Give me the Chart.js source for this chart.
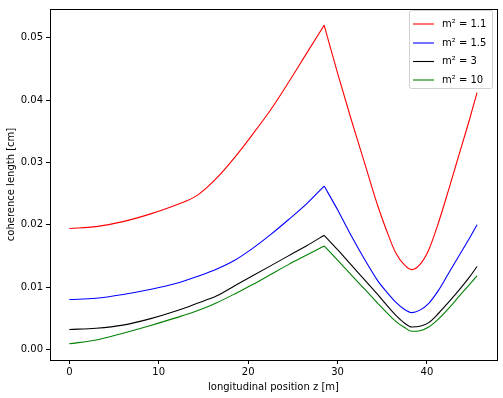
<!DOCTYPE html>
<html>
<head>
<meta charset="utf-8">
<script src="https://cdn.jsdelivr.net/npm/chart.js@4/dist/chart.umd.min.js"></script>
<style>
  html, body { margin: 0; padding: 0; background: #fff; }
  #wrap { width: 503px; height: 398px; }
</style>
</head>
<body>
<div id="wrap"><canvas id="grafico"></canvas></div>
<script>
// posicao longitudinal z [m]
const posicoes = [0, 3, 6, 9, 12, 14.3, 16.5, 18.5, 20.5, 22.5, 24.5, 26.5, 28.5, 30, 31.5, 33, 34.5, 35.5, 36.5, 37.5, 38.3, 39.2, 40.2, 41.3, 42.5, 43.7, 44.7, 45.6];
// indice do pico (z = 28.5), onde a curva tem um bico
const indicePico = 12;

// comprimento de coerencia [cm] para cada m^2
const coerencia11 = [0.0194, 0.0197, 0.0205, 0.0217, 0.0232, 0.0247, 0.0275, 0.0308, 0.0345, 0.0384, 0.0428, 0.0474, 0.0520, 0.0443, 0.0370, 0.0300, 0.0230, 0.0190, 0.0155, 0.0135, 0.0128, 0.0136, 0.0160, 0.0204, 0.0260, 0.0318, 0.0366, 0.0412];
const coerencia15 = [0.0080, 0.0082, 0.0088, 0.0096, 0.0106, 0.0117, 0.0129, 0.0143, 0.0162, 0.0184, 0.0208, 0.0233, 0.0262, 0.0224, 0.0183, 0.0145, 0.0110, 0.0092, 0.0076, 0.0064, 0.0059, 0.0063, 0.0074, 0.0095, 0.0124, 0.0153, 0.0177, 0.0200];
const coerencia3 = [0.0032, 0.0034, 0.0039, 0.0049, 0.0062, 0.0074, 0.0086, 0.0102, 0.0118, 0.0134, 0.0150, 0.0166, 0.0183, 0.0160, 0.0136, 0.0112, 0.0088, 0.0071, 0.0055, 0.0042, 0.0036, 0.0037, 0.0043, 0.0058, 0.0077, 0.0097, 0.0115, 0.0133];
const coerencia10 = [0.0009, 0.0015, 0.0026, 0.0038, 0.0051, 0.0062, 0.0075, 0.0089, 0.0104, 0.0120, 0.0136, 0.0151, 0.0166, 0.0143, 0.0120, 0.0097, 0.0074, 0.0059, 0.0045, 0.0035, 0.0029, 0.0030, 0.0036, 0.0049, 0.0067, 0.0087, 0.0103, 0.0118];

const legendas = ["m\u00b2 = 1.1", "m\u00b2 = 1.5", "m\u00b2 = 3", "m\u00b2 = 10"];
const cores = ["#ff0000", "#0000ff", "#000000", "#008000"];
const ticksX = [0, 10, 20, 30, 40];
const ticksY = [0, 0.01, 0.02, 0.03, 0.04, 0.05];

const fonte = { family: "'DejaVu Sans', sans-serif", size: 10 };

function pontos(valores, inicio, fim) {
  const lista = [];
  for (let i = inicio; i <= fim; i++) {
    lista.push({ x: posicoes[i], y: valores[i] });
  }
  return lista;
}

// cada curva vira dois trechos suaves que se encontram no pico
function trechos(label, valores, cor) {
  const base = {
    borderColor: cor,
    backgroundColor: cor,
    borderWidth: 1.1,
    pointRadius: 0,
    cubicInterpolationMode: "monotone",
    fill: false,
  };
  return [
    { ...base, label: label, data: pontos(valores, 0, indicePico) },
    { ...base, label: "", data: pontos(valores, indicePico, posicoes.length - 1) },
  ];
}

// moldura em volta da area do grafico (4 lados)
const moldura = {
  id: "moldura",
  afterDraw(chart) {
    const { ctx, chartArea } = chart;
    ctx.save();
    ctx.strokeStyle = "#000";
    ctx.lineWidth = 1;
    ctx.strokeRect(
      Math.round(chartArea.left) + 0.5,
      Math.round(chartArea.top) + 0.5,
      Math.round(chartArea.right - chartArea.left),
      Math.round(chartArea.bottom - chartArea.top)
    );
    ctx.restore();
  },
};

// legenda no canto superior direito, estilo matplotlib
const legendaCaixa = {
  id: "legendaCaixa",
  afterDraw(chart) {
    const ctx = chart.ctx;
    const x0 = 409.5, y0 = 10.5, w = 83, h = 78;
    ctx.save();
    ctx.fillStyle = "rgba(255,255,255,0.8)";
    ctx.strokeStyle = "#d0d0d0";
    ctx.lineWidth = 1;
    ctx.beginPath();
    ctx.roundRect(x0, y0, w, h, 2);
    ctx.fill();
    ctx.stroke();
    ctx.font = "10px 'DejaVu Sans', sans-serif";
    ctx.textBaseline = "middle";
    const linhas = [24, 43, 61.5, 80];
    legendas.forEach((texto, i) => {
      const y = linhas[i];
      ctx.strokeStyle = cores[i];
      ctx.lineWidth = 1.1;
      ctx.beginPath();
      ctx.moveTo(413, y);
      ctx.lineTo(434, y);
      ctx.stroke();
      ctx.fillStyle = "#000";
      ctx.fillText(texto, 442, y);
    });
    ctx.restore();
  },
};

const ctx = document.getElementById("grafico").getContext("2d");

new Chart(ctx, {
  type: "line",
  data: {
    datasets: [
      ...trechos(legendas[0], coerencia11, cores[0]),
      ...trechos(legendas[1], coerencia15, cores[1]),
      ...trechos(legendas[2], coerencia3, cores[2]),
      ...trechos(legendas[3], coerencia10, cores[3]),
    ],
  },
  options: {
    responsive: true,
    maintainAspectRatio: false,
    animation: false,
    devicePixelRatio: 1,
    layout: { padding: { top: 7, right: 6, left: 0, bottom: 0 } },
    plugins: {
      legend: { display: false },
      tooltip: { enabled: false },
    },
    scales: {
      x: {
        type: "linear",
        min: -2.16,
        max: 47.83,
        afterBuildTicks: (eixo) => {
          eixo.ticks = ticksX.map((v) => ({ value: v }));
        },
        afterFit: (eixo) => {
          eixo.height = 38;
        },
        ticks: {
          color: "#000",
          font: fonte,
          padding: 2,
          maxRotation: 0,
          callback: (v) => String(v),
        },
        grid: {
          drawOnChartArea: false,
          drawTicks: true,
          tickLength: 4,
          color: "#000",
        },
        border: { display: true, color: "#000" },
        title: {
          display: true,
          text: "longitudinal position z [m]",
          color: "#000",
          font: fonte,
          padding: { top: 0, bottom: 5 },
        },
      },
      y: {
        type: "linear",
        min: -0.0017,
        max: 0.0546,
        afterBuildTicks: (eixo) => {
          eixo.ticks = ticksY.map((v) => ({ value: v }));
        },
        afterFit: (eixo) => {
          eixo.width = 50;
        },
        ticks: {
          color: "#000",
          font: fonte,
          padding: 3,
          callback: (v) => v.toFixed(2),
        },
        grid: {
          drawOnChartArea: false,
          drawTicks: true,
          tickLength: 4,
          color: "#000",
        },
        border: { display: true, color: "#000" },
        title: {
          display: true,
          text: "coherence length [cm]",
          color: "#000",
          font: fonte,
          padding: { top: 5, bottom: 0 },
        },
      },
    },
  },
  plugins: [moldura, legendaCaixa],
});
</script>
</body>
</html>
